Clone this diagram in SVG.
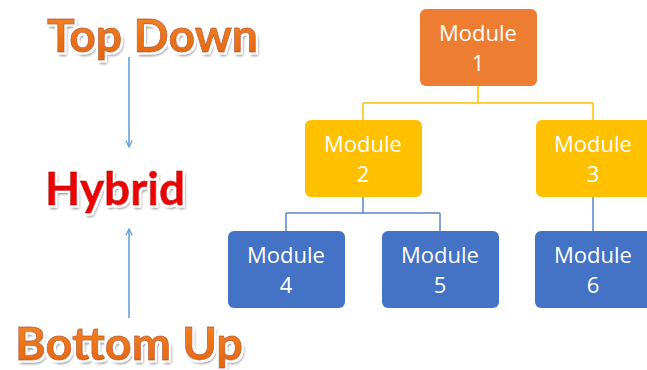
<svg xmlns="http://www.w3.org/2000/svg" width="647" height="370" viewBox="0 0 647 370">
<defs>
<filter id="sh" x="-10%" y="-20%" width="120%" height="150%">
<feGaussianBlur in="SourceAlpha" stdDeviation="1.5" result="b"/>
<feOffset in="b" dx="1.5" dy="2.5" result="o"/>
<feComponentTransfer in="o" result="o2"><feFuncA type="linear" slope="0.55"/></feComponentTransfer>
<feMorphology in="SourceAlpha" operator="dilate" radius="1.5" result="d"/>
<feFlood flood-color="#ffffff"/>
<feComposite in2="d" operator="in" result="w"/>
<feMerge><feMergeNode in="o2"/><feMergeNode in="w"/><feMergeNode in="SourceGraphic"/></feMerge>
</filter>
<linearGradient id="og" x1="0" y1="0" x2="0" y2="1">
<stop offset="0" stop-color="#F58A2A"/><stop offset="1" stop-color="#E2620A"/>
</linearGradient>
<marker id="ah" viewBox="0 0 10 10" refX="9" refY="5" markerWidth="8" markerHeight="8" markerUnits="userSpaceOnUse" orient="auto">
<path d="M1,1 L9,5 L1,9" fill="none" stroke="#5B9BD5" stroke-width="1.5"/>
</marker>
<style>
.big{font-family:Lato,"Open Sans",sans-serif;font-weight:bold;font-size:46px;text-anchor:start}
.orange{fill:url(#og);stroke:#C55A11;stroke-width:0.8}
.red{fill:#F20000;stroke:#C00000;stroke-width:0.8}
.lbl{font-family:"Open Sans","Liberation Sans",sans-serif;font-size:22px;fill:#ffffff;text-anchor:middle}
.box{stroke:none}
.c1{fill:#ED7D31}.c2{fill:#FFC000}.c3{fill:#4472C4}
.yl{fill:none;stroke:#FFC000;stroke-width:1.5}
.bl{fill:none;stroke:#5B85D2;stroke-width:1.5}
.ar{fill:none;stroke:#5B9BD5;stroke-width:1.5}
</style>
</defs>
<rect width="647" height="370" fill="#ffffff"/>
<g id="labels-left" filter="url(#sh)">
<text class="big orange" x="47" y="52" textLength="211" lengthAdjust="spacingAndGlyphs">Top Down</text>
<text class="big red" x="45" y="205" textLength="140" lengthAdjust="spacingAndGlyphs">Hybrid</text>
<text class="big orange" x="15" y="360" textLength="228" lengthAdjust="spacingAndGlyphs">Bottom Up</text>
</g>
<g id="connectors">
<path class="ar" d="M129,57 V147" marker-end="url(#ah)"/>
<path class="ar" d="M129,318 V229" marker-end="url(#ah)"/>
<path class="yl" d="M478,86 V103 M363,103 H593 M363,103 V120 M593,103 V120"/>
<path class="bl" d="M363,197 V213 M286,213 H440 M286,213 V231 M440,213 V231 M593,197 V231"/>
</g>
<g id="module1"><rect class="box c1" x="420" y="9" width="117" height="77" rx="6"/><text class="lbl" x="478" y="41">Module</text><text class="lbl" x="478" y="71">1</text></g>
<g id="module2"><rect class="box c2" x="305" y="120" width="117" height="77" rx="6"/><text class="lbl" x="363" y="152">Module</text><text class="lbl" x="363" y="182">2</text></g>
<g id="module3"><rect class="box c2" x="536" y="120" width="117" height="77" rx="6"/><text class="lbl" x="593" y="152">Module</text><text class="lbl" x="593" y="182">3</text></g>
<g id="module4"><rect class="box c3" x="228" y="231" width="117" height="77" rx="6"/><text class="lbl" x="286" y="263">Module</text><text class="lbl" x="286" y="293">4</text></g>
<g id="module5"><rect class="box c3" x="382" y="231" width="117" height="77" rx="6"/><text class="lbl" x="440" y="263">Module</text><text class="lbl" x="440" y="293">5</text></g>
<g id="module6"><rect class="box c3" x="535" y="231" width="117" height="77" rx="6"/><text class="lbl" x="593" y="263">Module</text><text class="lbl" x="593" y="293">6</text></g>
</svg>
